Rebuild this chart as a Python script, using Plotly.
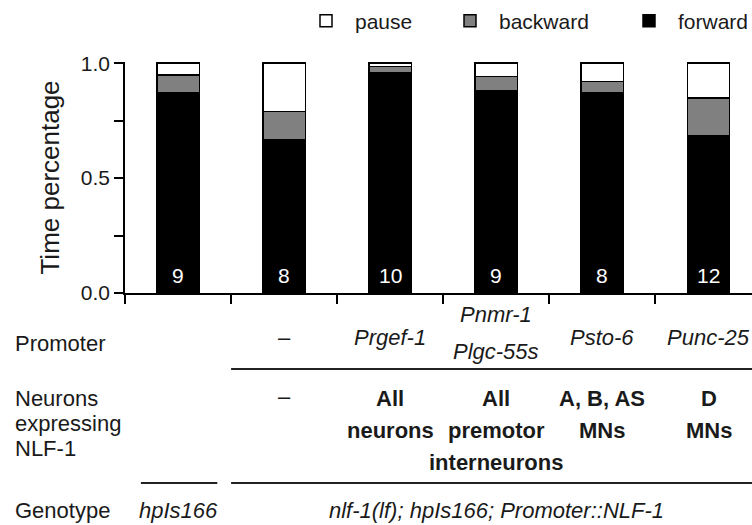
import plotly.graph_objects as go

# ---- data ----
groups = [0, 1, 2, 3, 4, 5]
forward = [0.870, 0.665, 0.960, 0.880, 0.870, 0.683]
backward = [0.078, 0.125, 0.025, 0.063, 0.050, 0.165]
pause = [0.052, 0.210, 0.015, 0.057, 0.080, 0.152]
n_animals = ["9", "8", "10", "9", "8", "12"]

row_labels = [["Promoter"], ["Neurons", "expressing", "NLF-1"], ["Genotype"]]
promoter_lines = [[], ["–"], ["Prgef-1"], ["Pnmr-1", "Plgc-55s"], ["Psto-6"], ["Punc-25"]]
neuron_lines = [[], ["–"], ["All", "neurons"], ["All", "premotor", "interneurons"],
                ["A, B, AS", "MNs"], ["D", "MNs"]]
genotype_control = "hpIs166"
genotype_rescue = "nlf-1(lf); hpIs166; Promoter::NLF-1"

# ---- layout geometry (pixels) ----
W, H = 752, 525
PL, PR, PT, PB = 125, 752, 62, 293
Y_TOP = 1.005
FONT = "Arial, Liberation Sans, Helvetica, sans-serif"
TXT = "#1a1a1a"
TS = 22


def py(p):
    """pixel row -> paper y"""
    return (PB - p) / (PB - PT)


def pxx(p):
    """pixel column -> paper x"""
    return (p - PL) / (PR - PL)


fig = go.Figure()
line = dict(color="black", width=1.5)
fig.add_trace(go.Bar(x=groups, y=forward, name="forward", width=0.4, legend="legend3",
                     showlegend=True, marker=dict(color="black", line=line)))
fig.add_trace(go.Bar(x=groups, y=backward, name="backward", width=0.4, legend="legend2",
                     showlegend=True, marker=dict(color="#808080", line=line)))
fig.add_trace(go.Bar(x=groups, y=pause, name="pause", width=0.4, legend="legend",
                     showlegend=True, marker=dict(color="white", line=line)))

ann = []
# n labels inside bars
for g, n in zip(groups, n_animals):
    ann.append(dict(x=g, y=0.078, xref="x", yref="y", text=n, showarrow=False,
                    yanchor="middle", font=dict(color="white", size=21, family=FONT)))


def add_text(x, y, text, xref="x", xanchor="center"):
    ann.append(dict(x=x, y=y, xref=xref, yref="paper", text=text, showarrow=False,
                    xanchor=xanchor, yanchor="middle",
                    font=dict(size=TS, family=FONT, color=TXT)))


# row labels
add_text(pxx(13), py(343), row_labels[0][0], xref="paper", xanchor="left")
for i, t in enumerate(row_labels[1]):
    add_text(pxx(13), py(398 + 25 * i), t, xref="paper", xanchor="left")
add_text(pxx(13), py(510), row_labels[2][0], xref="paper", xanchor="left")

# promoter row
for g, lines in zip(groups, promoter_lines):
    ys = [337] if len(lines) == 1 else [314, 351]
    for t, yy in zip(lines, ys):
        add_text(g, py(yy), t if t == "–" else "<i>" + t + "</i>")

# neurons row
for g, lines in zip(groups, neuron_lines):
    for i, t in enumerate(lines):
        if t == "–":
            add_text(g, py(396), t)
        else:
            add_text(g, py(398 + 32 * i), "<b>" + t + "</b>")

# genotype row
add_text(0, py(510), "<i>" + genotype_control + "</i>")
add_text(3, py(510), "<i>" + genotype_rescue + "</i>")

shapes = [
    dict(type="line", xref="x", yref="paper", x0=0.5, x1=5.41, y0=py(369), y1=py(369),
         line=dict(color="#222", width=2)),
    dict(type="line", xref="x", yref="paper", x0=0.5, x1=5.41, y0=py(483), y1=py(483),
         line=dict(color="#222", width=2)),
    dict(type="line", xref="x", yref="paper", x0=-0.35, x1=0.37, y0=py(483), y1=py(483),
         line=dict(color="#222", width=2)),
]


def legend_at(left_px):
    return dict(orientation="h", xref="container", yref="container",
                x=left_px / W, xanchor="left", y=1 - 21 / H, yanchor="middle",
                font=dict(size=21, family=FONT, color=TXT), itemwidth=48,
                bgcolor="rgba(0,0,0,0)", itemclick=False, itemdoubleclick=False,
                visible=True)


fig.update_layout(
    width=W, height=H,
    margin=dict(l=PL, r=W - PR, t=PT, b=H - PB, pad=0),
    plot_bgcolor="white", paper_bgcolor="white",
    barmode="stack", showlegend=True,
    font=dict(family=FONT, size=21, color=TXT),
    annotations=ann, shapes=shapes,
    legend=legend_at(297),
    legend2=legend_at(441),
    legend3=legend_at(620),
    xaxis=dict(range=[-0.5, 5.41], showline=True, linecolor="black", linewidth=1.5,
               ticks="outside", tickvals=[-0.5, 0.5, 1.5, 2.5, 3.5, 4.5], ticklen=9,
               tickwidth=1.5, tickcolor="black", showticklabels=False,
               showgrid=False, zeroline=False, fixedrange=True),
    yaxis=dict(range=[0, Y_TOP], showline=True, linecolor="black", linewidth=1.5,
               ticks="outside", tickvals=[0, 0.5, 1.0], ticktext=["0.0", "0.5", "1.0"],
               ticklen=9, tickwidth=1.5, tickcolor="black",
               tickfont=dict(size=21, family=FONT, color=TXT),
               minor=dict(tickvals=[0.25, 0.75], ticks="outside", ticklen=9,
                          tickwidth=1.5, tickcolor="black", showgrid=False),
               title=dict(text="Time percentage", font=dict(size=26, family=FONT, color=TXT),
                          standoff=14),
               showgrid=False, zeroline=False, fixedrange=True),
)

fig.write_html("out.html")
